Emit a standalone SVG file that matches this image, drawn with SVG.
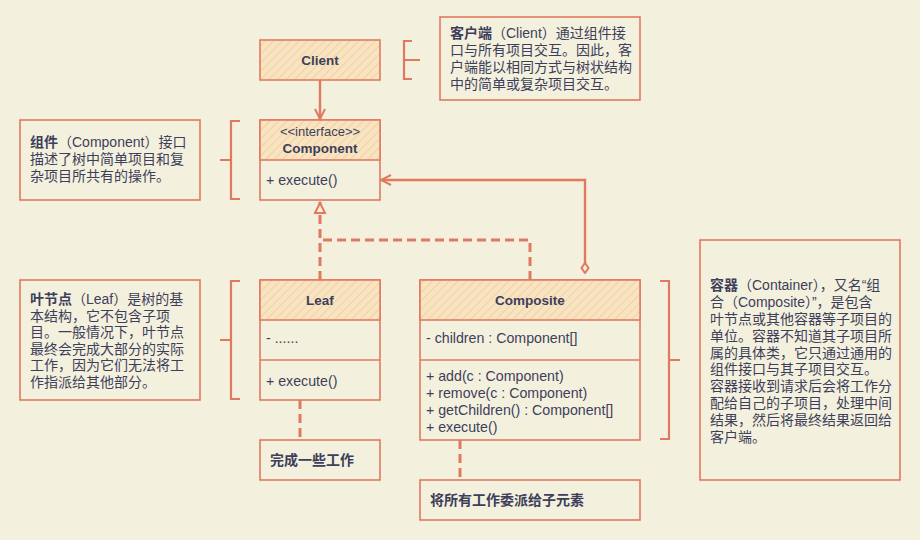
<svg xmlns="http://www.w3.org/2000/svg" width="920" height="540" viewBox="0 0 920 540">
<defs>
<pattern id="hatch" patternUnits="userSpaceOnUse" width="6" height="6" patternTransform="rotate(45)">
<rect width="6" height="6" fill="#f8e4c2"/>
<line x1="0" y1="0" x2="0" y2="6" stroke="#f1cd98" stroke-width="1.6"/>
</pattern>
<marker id="open" viewBox="0 0 12 12" refX="11" refY="6" markerWidth="12" markerHeight="12" markerUnits="userSpaceOnUse" orient="auto">
<path d="M1,1 L11,6 L1,11" fill="none" stroke="#e07a5f" stroke-width="2"/>
</marker>
<marker id="tri" viewBox="0 0 14 14" refX="13" refY="7" markerWidth="14" markerHeight="14" markerUnits="userSpaceOnUse" orient="auto">
<path d="M2,2 L12,7 L2,12 Z" fill="#f4f0de" stroke="#e07a5f" stroke-width="2"/>
</marker>
<marker id="dia" viewBox="0 0 14 10" refX="1" refY="5" markerWidth="14" markerHeight="10" markerUnits="userSpaceOnUse" orient="auto">
<path d="M1,5 L6,1.5 L11,5 L6,8.5 Z" fill="#f4f0de" stroke="#e07a5f" stroke-width="2"/>
</marker>
</defs>
<style>
.box{fill:#f4f0de;stroke:#e07a5f;stroke-width:1.6}
.hd{fill:url(#hatch);stroke:#e07a5f;stroke-width:1.6}
.div{stroke:#e07a5f;stroke-width:1.4;fill:none}
.br{fill:none;stroke:#e07a5f;stroke-width:2.2}
.con{fill:none;stroke:#e07a5f;stroke-width:2.4}
.dash{fill:none;stroke:#e07a5f;stroke-width:3;stroke-dasharray:9 5}
text{font-family:"Liberation Sans","Noto Sans CJK SC",sans-serif;fill:#3d3f5a}
.t{font-size:14.2px}
.b{font-size:13.5px;font-weight:bold}
.n{font-size:14px}
.nb{font-weight:bold}
</style>
<rect width="920" height="540" fill="#f4f0de"/>

<g id="connectors">
<line class="con" x1="320" y1="80" x2="320" y2="119" marker-end="url(#open)"/>
<line class="dash" x1="320" y1="280" x2="320" y2="202" marker-end="url(#tri)"/>
<path class="dash" d="M530,280 V240 H320"/>
<path class="con" d="M585,273 V180 H381" marker-start="url(#dia)" marker-end="url(#open)"/>
<line class="dash" x1="300" y1="400" x2="300" y2="440"/>
<line class="dash" x1="460" y1="440" x2="460" y2="480"/>
<path class="br" d="M412,41 H404 V79 H412 M404,60 H420"/>
<path class="br" d="M240,121 H231 V199 H240 M220,160 H231"/>
<path class="br" d="M240,281 H231 V399 H240 M220,340 H231"/>
<path class="br" d="M660,281 H669 V439 H660 M669,360 H680"/>
</g>

<g id="client">
<rect class="hd" x="260" y="40" width="120" height="40"/>
<text class="b" x="320" y="64.5" text-anchor="middle">Client</text>
</g>

<g id="note-client">
<rect class="box" x="440" y="17" width="200" height="83"/>
<text class="n" x="450" y="38"><tspan class="nb">客户端</tspan>（Client）通过组件接</text>
<text class="n" x="450" y="55">口与所有项目交互。因此，客</text>
<text class="n" x="450" y="72">户端能以相同方式与树状结构</text>
<text class="n" x="450" y="89">中的简单或复杂项目交互。</text>
</g>

<g id="component">
<rect class="box" x="260" y="120" width="120" height="80"/>
<rect class="hd" x="260" y="120" width="120" height="40"/>
<text class="t" x="320" y="136" text-anchor="middle" style="font-size:13px">&lt;&lt;interface&gt;&gt;</text>
<text class="b" x="320" y="153" text-anchor="middle">Component</text>
<text class="t" x="266" y="185">+ execute()</text>
</g>

<g id="note-component">
<rect class="box" x="20" y="120" width="180" height="80"/>
<text class="n" x="30" y="147"><tspan class="nb">组件</tspan>（Component）接口</text>
<text class="n" x="30" y="164">描述了树中简单项目和复</text>
<text class="n" x="30" y="181">杂项目所共有的操作。</text>
</g>

<g id="leaf">
<rect class="box" x="260" y="280" width="120" height="120"/>
<rect class="hd" x="260" y="280" width="120" height="40"/>
<line class="div" x1="260" y1="360" x2="380" y2="360"/>
<text class="b" x="320" y="304.5" text-anchor="middle">Leaf</text>
<text class="t" x="266" y="343">- ......</text>
<text class="t" x="266" y="386">+ execute()</text>
</g>

<g id="note-leaf">
<rect class="box" x="20" y="280" width="180" height="120"/>
<text class="n" x="30" y="304"><tspan class="nb">叶节点</tspan>（Leaf）是树的基</text>
<text class="n" x="30" y="320.5">本结构，它不包含子项</text>
<text class="n" x="30" y="337">目。一般情况下，叶节点</text>
<text class="n" x="30" y="353.5">最终会完成大部分的实际</text>
<text class="n" x="30" y="370">工作，因为它们无法将工</text>
<text class="n" x="30" y="386.5">作指派给其他部分。</text>
</g>

<g id="composite">
<rect class="box" x="420" y="280" width="220" height="160"/>
<rect class="hd" x="420" y="280" width="220" height="40"/>
<line class="div" x1="420" y1="360" x2="640" y2="360"/>
<text class="b" x="530" y="304.5" text-anchor="middle">Composite</text>
<text class="t" x="426" y="343">- children : Component[]</text>
<text class="t" x="426" y="381">+ add(c : Component)</text>
<text class="t" x="426" y="398">+ remove(c : Component)</text>
<text class="t" x="426" y="415">+ getChildren() : Component[]</text>
<text class="t" x="426" y="432">+ execute()</text>
</g>

<g id="note-composite">
<rect class="box" x="700" y="240" width="200" height="240"/>
<text class="n" x="710" y="290"><tspan class="nb">容器</tspan>（Container），又名“组</text>
<text class="n" x="710" y="307">合（Composite）”，是包含</text>
<text class="n" x="710" y="324">叶节点或其他容器等子项目的</text>
<text class="n" x="710" y="341">单位。容器不知道其子项目所</text>
<text class="n" x="710" y="358">属的具体类，它只通过通用的</text>
<text class="n" x="710" y="374">组件接口与其子项目交互。</text>
<text class="n" x="710" y="391">容器接收到请求后会将工作分</text>
<text class="n" x="710" y="408">配给自己的子项目，处理中间</text>
<text class="n" x="710" y="425">结果，然后将最终结果返回给</text>
<text class="n" x="710" y="442">客户端。</text>
</g>

<g id="note-leaf-work">
<rect class="box" x="260" y="440" width="120" height="40"/>
<text class="n nb" x="270" y="465">完成一些工作</text>
</g>

<g id="note-composite-work">
<rect class="box" x="420" y="480" width="220" height="40"/>
<text class="n nb" x="430" y="505">将所有工作委派给子元素</text>
</g>
</svg>
